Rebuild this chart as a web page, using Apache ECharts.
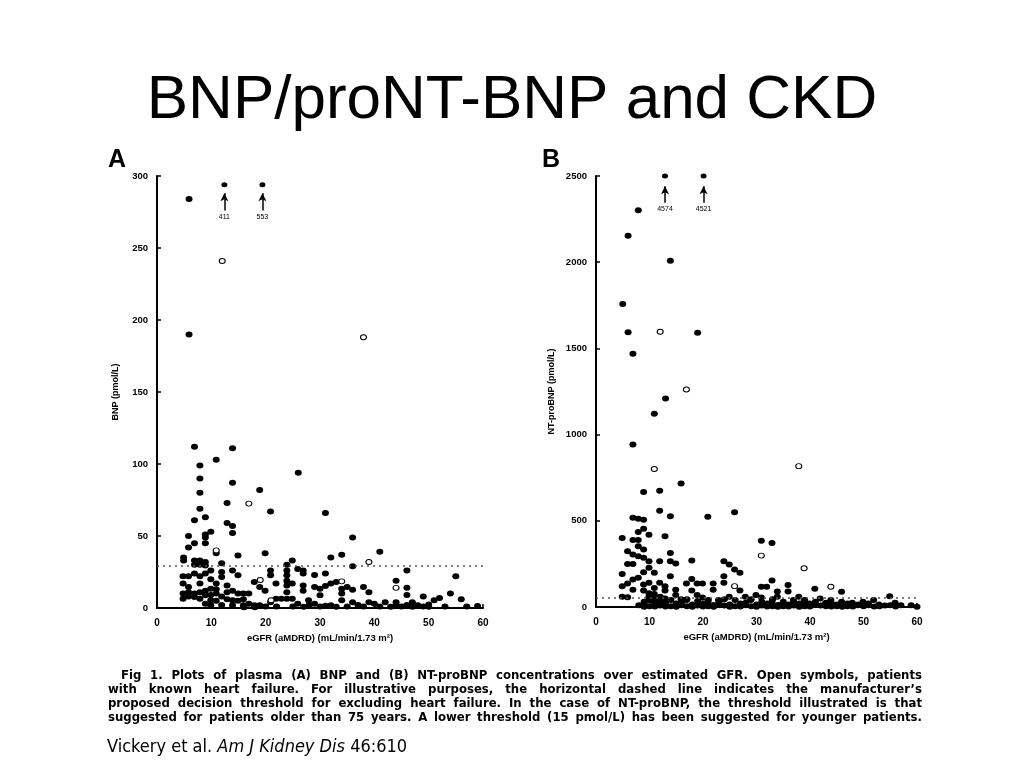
<!DOCTYPE html>
<html><head><meta charset="utf-8">
<script src="https://cdn.jsdelivr.net/npm/echarts/dist/echarts.min.js"></script>
<style>html,body{margin:0;padding:0;background:#fff}#c{width:1024px;height:768px}</style>
</head><body><div id="c"></div>
<script>
// ---------- DATA ----------
const titleText = 'BNP/proNT-BNP and CKD';
const xTicks = { min: 0, max: 60, interval: 10 };
const yTicksA = { min: 0, max: 300, interval: 50 };
const yTicksB = { min: 0, max: 2500, interval: 500 };
const xNameText = 'eGFR (aMDRD) (mL/min/1.73 m²)';
const yNameA = 'BNP (pmol/L)';
const yNameB = 'NT-proBNP (pmol/L)';
const thresholdA = 29;
const thresholdB = 53;

// Panel A: BNP, filled = no known heart failure
const filledA = [
 [5.9,284],[5.9,190],
 [6.9,112],[13.9,111],[10.9,103],[7.9,99],[26,94],[7.9,90],[13.9,87],[18.9,82],[7.9,80],[12.9,73],
 [7.9,69],[20.9,67],[31,66],[8.9,63],[6.9,61],[12.9,59],[13.9,57],[13.9,52],[9.9,53],[8.9,51],[8.9,49],
 [5.8,50],[36,49],[6.9,45],[8.9,45],[5.8,42],[10.9,38],[41,39],[19.9,38],[14.9,36.5],[34,37],[32,35],
 [4.9,35],[4.9,33],[6.9,33],[7.9,33],[8.9,32],[11.9,31],[24.9,33],[6.9,30],[7.9,30],[8.9,29.5],[36,29],
 [23.9,30],[9.9,26],[13.9,26],[20.9,26],[23.9,26],[25.9,27],[26.9,26],[46,26],[55,22],
 [4.8,22],[5.8,22],[6.9,24],[7.9,22],[8.9,24],[4.8,17],[5.8,14.6],[4.8,10],[4.8,6.5],[5.8,11],[6.9,10],
 [7.9,11],[8.9,12],[9.9,13.4],[7.9,6.5],[8.9,8.8],[9.9,5.3],[9.9,1.9],[6.9,7.6],[5.8,8],[7.9,17],[9.9,20],
 [10.9,10],[10.9,17],[11.9,21.5],[11.9,25],[12.9,11],[12.9,15.7],[13.9,12],[13.9,5.3],[13.9,1.9],
 [11.9,8],[10.9,5],[12.9,6],[11.9,2],[10.9,13],[9.9,9],[8.9,3],
 [14.9,22.7],[14.9,10],[15.9,10],[15.9,1.9],[16.9,10],[17.9,1.9],[18.9,1.9],[17.9,18],[18.9,14.6],[19.9,12],
 [14.9,5],[15.9,6],[16.9,3],
 [20.9,22.7],[20.9,4],[21.9,17],[21.9,6.5],[22.9,6.5],[23.9,22.7],[23.9,19],[23.9,15.7],[23.9,11],[23.9,6.5],
 [24.9,17],[24.9,6.5],[25.9,3],[26.9,24],[26.9,15.7],[26.9,12],[27.9,5.3],[29,23],[29,14.6],[30,13.4],[30,8.8],
 [31,24],[31,15.3],[32,17],[32,1.9],[31,1.5],[33,18],[34,13.4],[34,10],[34,5.3],[35,14.6],[36,12.7],[36,4],
 [38,14.6],[39,11],[39,4],[40,3],[42,4],[44,4],[44,1.9],[44,19],[46,14],[46,9],[46,2],[47,4],[48,1.9],[49,8],
 [50,2.5],[51,5.3],[52,7],[54,10],[56,6],[59,1.4],[28,2],[29,3],[22,1],[37,2],
 [16,0.5],[18,0.5],[20,1],[25,1],[27,0.8],[30,1],[33,0.8],[35,1],[38,1],[41,1],[43,0.8],[45,1],[47,0.8],
 [49,1],[50,0.8],[53,1],[57,1]
];
// Panel A: open = known heart failure
const openA = [[12,241],[38,188],[16.9,72.5],[10.9,40],[39,32],[19,19.5],[34,18.5],[44,14],[21,5.4]];
// Panel A: off-scale values (true values shown by arrows)
const offscaleA = [{ x: 12.4, value: 411 }, { x: 19.4, value: 553 }];

// Panel B: NT-proBNP, filled
const filledB = [
 [7.9,2302],[6.0,2153],[13.9,2008],[5.0,1757],[6.0,1593],[6.9,1469],[19,1591],[13,1210],[10.9,1121],[6.9,942],
 [15.9,717],[8.9,667],[11.9,675],[11.9,558],[13.9,527],[20.9,523],[25.9,550],[6.9,517],[7.9,512],[8.9,506],
 [4.9,400],[6.9,388],[7.9,388],[9.9,419],[12.9,410],[8.9,454],[7.9,435],[7.9,352],[8.9,333],[5.9,323],
 [6.9,304],[7.9,294],[8.9,285],[9.9,265],[11.9,265],[13.9,313],[13.9,265],[14.9,252],[9.9,227],[10.9,198],
 [8.9,202],[4.9,192],[5.9,250],[6.9,250],[17.9,269],[23.9,265],[24.9,246],[25.9,217],[26.9,198],[23.9,179],
 [30.9,385],[32.9,371],[40.9,106],[32.9,154],[35.9,127],[30.9,117],[31.9,117],[33.9,90],[35.9,90],[45.9,88],
 [54.9,63],[23.9,140],[21.9,137],[19.9,137],[18.9,137],[16.9,137],[17.9,163],[11.9,140],[13.9,179],[4.9,121],
 [5.9,137],[6.9,160],[9.9,140],[5.9,56],[4.9,60],
 [6.9,100],[8.9,95],[9.9,80],[10.9,75],[12.9,95],[14.9,100],[14.9,70],[15.9,45],[16.9,40],[17.9,95],[18.9,70],
 [19.9,55],[20.9,30],[21.9,100],[22.9,40],[24.9,60],[26.9,95],[27.9,60],[28.9,40],[29.9,70],[30.9,55],[32.9,30],
 [33.9,60],[34.9,20],[36.9,40],[37.9,60],[38.9,30],[39.9,20],[41.9,50],[42.9,20],[43.9,40],[44.9,10],[45.9,30],
 [46.9,15],[47.9,25],[48.9,10],[49.9,30],[50.9,20],[51.9,40],[52.9,15],[55.9,25],[58.9,10],
 [8,10],[9,20],[10,5],[11,15],[12,8],[13,25],[14,5],[15,20],[16,10],[17,5],[18,15],[19,8],[20,20],[21,5],[22,12],
 [23,20],[24,8],[25,15],[26,5],[27,20],[28,10],[29,5],[30,15],[31,8],[32,20],[33,5],[34,12],[35,5],[36,15],[37,8],
 [38,20],[39,5],[40,10],[41,15],[43,5],[44,20],[45,5],[46,10],[47,5],[49,15],[53,5],[55,10],
 [9.9,40],[10.9,50],[9,30],[11.9,35],[12.9,50],[10.9,110],[9.9,60],[12.9,120],[8.9,130],[7.9,170],[10.9,30],[12,60],
 [9,2],[10,40],[11,3],[12,30],[13,3],[14,40],[15,2],[16,30],[17,45],[18,2],[19,35],[20,3],[21,40],[22,2],[23,35],
 [24,45],[25,2],[26,40],[27,3],[28,25],[29,45],[30,2],[31,30],[32,3],[33,45],[34,2],[35,30],[36,3],[37,25],[38,2],
 [39,40],[40,3],[41,30],[42,8],[43,25],[44,3],[45,15],[46,2],[47,20],[48,3],[50,5],[51,10],[52,3],[54,8],[56,3],
 [57,10],[60,2]
];
const openB = [[12,1597],[16.9,1262],[10.9,800],[37.9,817],[30.9,298],[38.9,225],[25.9,121],[43.9,117]];
const offscaleB = [{ x: 12.9, value: 4574 }, { x: 20.1, value: 4521 }];

const captionLines = [
 'Fig 1.    Plots of plasma (A) BNP and (B) NT-proBNP concentrations over estimated GFR. Open symbols, patients',
 'with known heart failure. For illustrative purposes, the horizontal dashed line indicates the manufacturer\u2019s',
 'proposed decision threshold for excluding heart failure. In the case of NT-proBNP, the threshold illustrated is that',
 'suggested for patients older than 75 years. A lower threshold (15 pmol/L) has been suggested for younger patients.'
];
const citation = { authors: 'Vickery et al. ', journal: 'Am J Kidney Dis', ref: ' 46:610' };

// ---------- LAYOUT / STYLE ----------
const capA = 294, arrowA = [276, 288];
const capB = 2500, arrowB = [2345, 2440];
const tickFont = 'Liberation Sans, Arial, sans-serif';
const narrow = "'Liberation Sans Narrow', 'DejaVu Sans Condensed', 'Liberation Sans', sans-serif";

function xAxisCfg(idx) {
  return {
    gridIndex: idx, type: 'value', min: xTicks.min, max: xTicks.max, interval: xTicks.interval,
    name: xNameText, nameLocation: 'middle', nameGap: 24,
    nameTextStyle: { color: '#000', fontWeight: 'bold', fontSize: 9.5, fontFamily: tickFont },
    axisLine: { lineStyle: { color: '#000', width: 2 } },
    axisTick: { inside: true, length: 4, lineStyle: { color: '#000', width: 1.5 } },
    axisLabel: { color: '#000', fontWeight: 'bold', fontSize: 10, fontFamily: tickFont, margin: 10 },
    splitLine: { show: false }
  };
}
function yAxisCfg(idx, t, name, gap) {
  return {
    gridIndex: idx, type: 'value', min: t.min, max: t.max, interval: t.interval,
    name: name, nameLocation: 'middle', nameGap: gap, nameRotate: 90,
    nameTextStyle: { color: '#000', fontWeight: 'bold', fontSize: 9, fontFamily: tickFont },
    axisLine: { show: true, lineStyle: { color: '#000', width: 2 } },
    axisTick: { show: true, inside: true, length: 4, lineStyle: { color: '#000', width: 1.5 } },
    axisLabel: { color: '#000', fontWeight: 'bold', fontSize: 9.5, fontFamily: tickFont, margin: 9, formatter: v => String(v) },
    splitLine: { show: false }
  };
}
const filledStyle = { color: '#000', opacity: 1 };
const openStyle = { color: '#fff', borderColor: '#000', borderWidth: 1, opacity: 1 };
function thresholdLine(v) {
  return {
    silent: true, symbol: 'none', animation: false,
    lineStyle: { color: '#555', type: [2, 4], width: 1.5 },
    label: { show: false },
    data: [[{ coord: [0, v] }, { coord: [60, v] }]]
  };
}
function arrowLines(list, ar) {
  return {
    silent: true, symbol: ['none', 'arrow'], symbolSize: [6, 8], animation: false,
    lineStyle: { color: '#000', type: 'solid', width: 1.5 },
    label: { show: true, position: 'start', formatter: '{b}', fontSize: 7, color: '#000', fontFamily: tickFont, distance: 3 },
    data: list.map(d => [{ coord: [d.x, ar[0]], name: String(d.value) }, { coord: [d.x, ar[1]] }])
  };
}

// caption, justified word by word
const capFontSize = 13;
const capCtx = document.createElement('canvas').getContext('2d');
capCtx.font = 'bold ' + capFontSize + 'px ' + narrow;
const capLeft = 108, capRight = 922, capTop = [669, 683.5, 697.5, 711];
const captionGraphics = [];
captionLines.forEach((line, i) => {
  const words = line.split(/\s+/);
  const startX = i === 0 ? 121 : capLeft;
  const widths = words.map(w => capCtx.measureText(w).width);
  const total = widths.reduce((a, b) => a + b, 0);
  const gap = (capRight - startX - total) / (words.length - 1);
  let x = startX;
  words.forEach((w, j) => {
    captionGraphics.push({ type: 'text', left: x, top: capTop[i], style: { text: w, font: 'bold ' + capFontSize + 'px ' + narrow, fill: '#000' } });
    x += widths[j] + gap;
  });
});

const option = {
  backgroundColor: '#fff',
  animation: false,
  title: {
    text: titleText, left: 'center', top: 65,
    textStyle: { fontSize: 62, fontWeight: 'normal', color: '#000', fontFamily: 'Liberation Sans, Arial, sans-serif' }
  },
  grid: [
    { left: 157, top: 176, width: 326, height: 432 },
    { left: 596, top: 176, width: 321, height: 431 }
  ],
  xAxis: [xAxisCfg(0), xAxisCfg(1)],
  yAxis: [yAxisCfg(0, yTicksA, yNameA, 37), yAxisCfg(1, yTicksB, yNameB, 40)],
  series: [
    { type: 'scatter', xAxisIndex: 0, yAxisIndex: 0, data: filledA, symbolSize: [7, 6], itemStyle: filledStyle, markLine: thresholdLine(thresholdA), z: 3 },
    { type: 'scatter', xAxisIndex: 0, yAxisIndex: 0, data: openA, symbolSize: [6, 5], itemStyle: openStyle, z: 4 },
    { type: 'scatter', xAxisIndex: 0, yAxisIndex: 0, data: offscaleA.map(d => [d.x, capA]), symbolSize: [6, 5], itemStyle: filledStyle, markLine: arrowLines(offscaleA, arrowA) },
    { type: 'scatter', xAxisIndex: 1, yAxisIndex: 1, data: filledB, symbolSize: [7, 6], itemStyle: filledStyle, markLine: thresholdLine(thresholdB), z: 3 },
    { type: 'scatter', xAxisIndex: 1, yAxisIndex: 1, data: openB, symbolSize: [6, 5], itemStyle: openStyle, z: 4 },
    { type: 'scatter', xAxisIndex: 1, yAxisIndex: 1, data: offscaleB.map(d => [d.x, capB]), symbolSize: [6, 5], itemStyle: filledStyle, markLine: arrowLines(offscaleB, arrowB) }
  ],
  graphic: [
    { type: 'text', left: 108, top: 148, style: { text: 'A', font: 'bold 25px Liberation Sans, Arial, sans-serif', fill: '#000' } },
    { type: 'text', left: 542, top: 148, style: { text: 'B', font: 'bold 25px Liberation Sans, Arial, sans-serif', fill: '#000' } },
    ...captionGraphics,
    { type: 'text', left: 107, top: 738, style: {
        text: '{n|' + citation.authors + '}{i|' + citation.journal + '}{n|' + citation.ref + '}',
        rich: {
          n: { fontSize: 18, fontFamily: narrow, fill: '#000', color: '#000' },
          i: { fontSize: 18, fontFamily: narrow, fontStyle: 'italic', fill: '#000', color: '#000' }
        }
      } }
  ]
};
const chart = echarts.init(document.getElementById('c'));
chart.setOption(option);
</script></body></html>
